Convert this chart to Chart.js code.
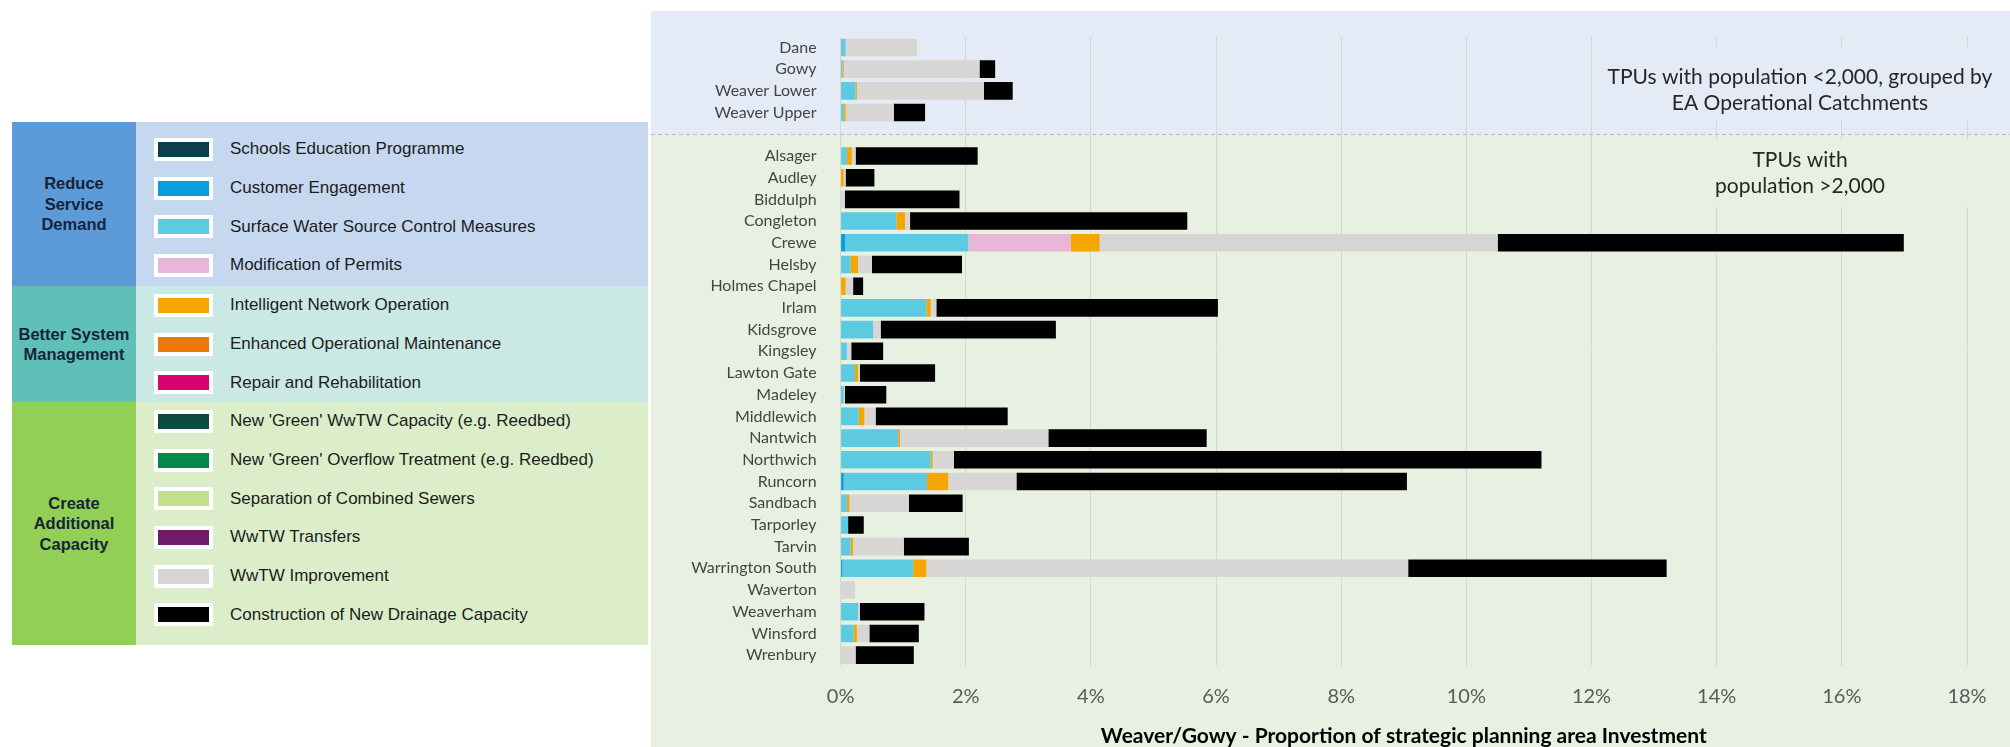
<!DOCTYPE html>
<html>
<head>
<meta charset="utf-8">
<title>Weaver/Gowy investment by TPU</title>
<script src="https://cdn.jsdelivr.net/npm/chart.js"></script>
<style>
  html, body { margin: 0; padding: 0; background: #fff; }
  body { width: 2010px; height: 747px; position: relative; overflow: hidden; font-family: "Liberation Sans", Arial, sans-serif; }
  #legend { position: absolute; left: 12px; top: 122px; width: 636px; }
  .grp { display: flex; }
  .grp .name { width: 124px; flex: none; display: flex; align-items: center; justify-content: center; text-align: center;
               font-weight: bold; font-size: 16.5px; line-height: 20.5px; color: #16243a; }
  .grp .items { flex: 1; box-sizing: border-box; }
  .item { height: 38.7px; display: flex; align-items: center; font-size: 17px; color: #1c1c1c; white-space: nowrap; }
  .sw { width: 51px; height: 15px; border: 4px solid #fff; margin-left: 18px; margin-right: 17px; flex: none; }
  #wrap { position: absolute; left: 651px; top: 11px; width: 1359px; height: 736px; }
</style>
</head>
<body>
<div id="legend"></div>
<div id="wrap"><canvas id="chart"></canvas></div>
<script>
// rows: 4 operational catchments, a spacer row, then the larger TPUs
var catchments = ['Dane', 'Gowy', 'Weaver Lower', 'Weaver Upper'];
var tpus = ['Alsager', 'Audley', 'Biddulph', 'Congleton', 'Crewe', 'Helsby', 'Holmes Chapel', 'Irlam',
  'Kidsgrove', 'Kingsley', 'Lawton Gate', 'Madeley', 'Middlewich', 'Nantwich', 'Northwich', 'Runcorn',
  'Sandbach', 'Tarporley', 'Tarvin', 'Warrington South', 'Waverton', 'Weaverham', 'Winsford', 'Wrenbury'];
var rowLabels = catchments.concat([''], tpus);
var spacerRow = 4;

// % of strategic planning area investment, one value per row (null = spacer)
//                  Dane  Gowy  WLow  WUpp  --    Alsg  Audl  Bidd  Cong  Crew  Hels  HolC  Irlm  Kids  King  LawG  Made  Midd  Nant  Nort  Runc  Sand  Tarp  Tarv  WarS  Wavt  Wvhm  Wins  Wren
var schoolsEducation =   [0,    0,    0,    0,    null, 0,    0,    0,    0,    0,    0,    0,    0,    0,    0,    0,    0,    0,    0,    0,    0,    0,    0,    0,    0,    0,    0,    0,    0];
var customerEngagement = [0,    0,    0,    0,    null, 0,    0,    0,    0,    0.07, 0,    0,    0,    0,    0,    0,    0,    0,    0,    0,    0.05, 0,    0,    0,    0.03, 0,    0,    0,    0];
var surfaceWater =       [0.08, 0.03, 0.24, 0.05, null, 0.10, 0,    0,    0.89, 1.97, 0.16, 0,    1.37, 0.52, 0.10, 0.23, 0.05, 0.29, 0.92, 1.44, 1.33, 0.10, 0.12, 0.16, 1.13, 0,    0.28, 0.21, 0];
var permitChanges =      [0,    0,    0,    0,    null, 0,    0,    0,    0,    1.64, 0,    0,    0,    0,    0,    0,    0,    0,    0,    0,    0,    0,    0,    0,    0,    0,    0,    0,    0];
var intelligentNetwork = [0,    0.02, 0.02, 0.03, null, 0.08, 0.05, 0,    0.14, 0.46, 0.12, 0.08, 0.07, 0,    0,    0.05, 0,    0.09, 0.03, 0.03, 0.34, 0.04, 0,    0.04, 0.21, 0,    0,    0.05, 0];
var enhancedMaint =      [0,    0,    0,    0,    null, 0,    0,    0,    0,    0,    0,    0,    0,    0,    0,    0,    0,    0,    0,    0,    0,    0,    0,    0,    0,    0,    0,    0,    0];
var repairRehab =        [0,    0,    0,    0,    null, 0,    0,    0,    0,    0,    0,    0,    0,    0,    0,    0,    0,    0,    0,    0,    0,    0,    0,    0,    0,    0,    0,    0,    0];
var greenWwtw =          [0,    0,    0,    0,    null, 0,    0,    0,    0,    0,    0,    0,    0,    0,    0,    0,    0,    0,    0,    0,    0,    0,    0,    0,    0,    0,    0,    0,    0];
var greenOverflow =      [0,    0,    0,    0,    null, 0,    0,    0,    0,    0,    0,    0,    0,    0,    0,    0,    0,    0,    0,    0,    0,    0,    0,    0,    0,    0,    0,    0,    0];
var sewerSeparation =    [0,    0,    0,    0,    null, 0,    0,    0,    0,    0,    0,    0,    0,    0,    0,    0,    0,    0,    0,    0,    0,    0,    0,    0,    0,    0,    0,    0,    0];
var wwtwTransfers =      [0,    0,    0,    0,    null, 0,    0,    0,    0,    0,    0,    0,    0,    0,    0,    0,    0,    0,    0,    0,    0,    0,    0,    0,    0,    0,    0,    0,    0];
var wwtwImprovement =    [1.14, 2.17, 2.03, 0.77, null, 0.06, 0.03, 0.07, 0.08, 6.36, 0.22, 0.12, 0.09, 0.12, 0.07, 0.03, 0.02, 0.18, 2.37, 0.34, 1.09, 0.95, 0,    0.81, 7.70, 0.23, 0.03, 0.20, 0.24];
var newDrainage =        [0,    0.25, 0.46, 0.50, null, 1.95, 0.46, 1.83, 4.43, 6.49, 1.44, 0.16, 4.50, 2.80, 0.51, 1.20, 0.66, 2.11, 2.53, 9.39, 6.24, 0.86, 0.25, 1.04, 4.13, 0,    1.03, 0.79, 0.93];

var xTicks = [0, 2, 4, 6, 8, 10, 12, 14, 16, 18];
var axisTitle = 'Weaver/Gowy - Proportion of strategic planning area Investment';

var groups = [
  { name: ['Reduce', 'Service', 'Demand'], items: [
      ['Schools Education Programme', schoolsEducation, '#0b3e4f'],
      ['Customer Engagement', customerEngagement, '#0a9ddc'],
      ['Surface Water Source Control Measures', surfaceWater, '#5ccbe2'],
      ['Modification of Permits', permitChanges, '#e8b7d7']] },
  { name: ['Better System', 'Management'], items: [
      ['Intelligent Network Operation', intelligentNetwork, '#f5a600'],
      ['Enhanced Operational Maintenance', enhancedMaint, '#ec7808'],
      ['Repair and Rehabilitation', repairRehab, '#d8036f']] },
  { name: ['Create', 'Additional', 'Capacity'], items: [
      ["New 'Green' WwTW Capacity (e.g. Reedbed)", greenWwtw, '#0c4a42'],
      ["New 'Green' Overflow Treatment (e.g. Reedbed)", greenOverflow, '#03874a'],
      ['Separation of Combined Sewers', sewerSeparation, '#c4df8e'],
      ['WwTW Transfers', wwtwTransfers, '#6f1c6c'],
      ['WwTW Improvement', wwtwImprovement, '#d8d6d4'],
      ['Construction of New Drainage Capacity', newDrainage, '#000000']] }
];

// legend panel colours and box sizes
var groupStyle = [
  { head: '#5d9ad8', body: '#c5d8f0', height: 164, padTop: 8 },
  { head: '#5fc0b8', body: '#cae9e5', height: 116, padTop: 0 },
  { head: '#92cf55', body: '#dbeec9', height: 243, padTop: 0 }
];

var legend = document.getElementById('legend');
groups.forEach(function (g, gi) {
  var st = groupStyle[gi];
  var row = document.createElement('div');
  row.className = 'grp';
  row.style.height = st.height + 'px';
  var name = document.createElement('div');
  name.className = 'name';
  name.style.background = st.head;
  name.innerHTML = g.name.join('<br>');
  var items = document.createElement('div');
  items.className = 'items';
  items.style.background = st.body;
  items.style.paddingTop = st.padTop + 'px';
  g.items.forEach(function (it) {
    var d = document.createElement('div');
    d.className = 'item';
    var sw = document.createElement('span');
    sw.className = 'sw';
    sw.style.background = it[2];
    d.appendChild(sw);
    d.appendChild(document.createTextNode(it[0]));
    items.appendChild(d);
  });
  row.appendChild(name);
  row.appendChild(items);
  legend.appendChild(row);
});

var datasets = [];
groups.forEach(function (g) {
  g.items.forEach(function (it) {
    datasets.push({
      label: it[0],
      data: it[1],
      backgroundColor: it[2],
      barPercentage: 0.81,
      categoryPercentage: 1
    });
  });
});

var topBg = '#e4ebf6';
var lowBg = '#e7f0e1';

// two-tone panel, dashed divider and the two group notes
var panel = {
  id: 'panel',
  beforeDraw: function (chart) {
    var ctx = chart.ctx;
    var sepY = chart.scales.y.getPixelForValue(spacerRow);
    ctx.save();
    ctx.fillStyle = lowBg;
    ctx.fillRect(0, 0, chart.width, chart.height);
    ctx.fillStyle = topBg;
    ctx.fillRect(0, 0, chart.width, sepY);
    ctx.restore();
  },
  beforeDatasetsDraw: function (chart) {
    var ctx = chart.ctx;
    var sepY = chart.scales.y.getPixelForValue(spacerRow);
    ctx.save();
    ctx.strokeStyle = '#a8bfd6';
    ctx.lineWidth = 1;
    ctx.setLineDash([4, 3]);
    ctx.beginPath();
    ctx.moveTo(0, Math.round(sepY) + 0.5);
    ctx.lineTo(chart.width, Math.round(sepY) + 0.5);
    ctx.stroke();
    ctx.setLineDash([]);

    var cx = 1149;
    ctx.fillStyle = topBg;
    ctx.fillRect(950, 36, 390, 73);
    ctx.fillStyle = lowBg;
    ctx.fillRect(950, 129, 390, 67);

    ctx.fillStyle = '#262626';
    ctx.font = '21px Lato';
    ctx.textAlign = 'center';
    ctx.textBaseline = 'middle';
    ctx.fillText('TPUs with population <2,000, grouped by', cx, 66);
    ctx.fillText('EA Operational Catchments', cx, 92);
    ctx.fillText('TPUs with', cx, 149);
    ctx.fillText('population >2,000', cx, 175);
    ctx.restore();
  }
};

function draw() {
  new Chart(document.getElementById('chart'), {
    type: 'bar',
    data: { labels: rowLabels, datasets: datasets },
    options: {
      indexAxis: 'y',
      responsive: true,
      maintainAspectRatio: false,
      animation: false,
      layout: { padding: { top: 23, right: 43, left: 0, bottom: 0 } },
      plugins: { legend: { display: false }, tooltip: { enabled: false } },
      scales: {
        x: {
          stacked: true,
          min: 0,
          max: 18,
          afterBuildTicks: function (s) { s.ticks = xTicks.map(function (v) { return { value: v }; }); },
          ticks: {
            callback: function (v) { return v + '%'; },
            color: '#595959',
            font: { family: 'Lato', size: 20 },
            padding: 19
          },
          grid: { color: '#d3d9cd', drawTicks: false },
          border: { display: false },
          title: {
            display: true,
            text: axisTitle,
            color: '#000',
            font: { family: 'Lato', size: 21, weight: 'bold', lineHeight: 1 },
            padding: { top: 0, bottom: 0 }
          },
          afterFit: function (s) { s.height = 81; }
        },
        y: {
          stacked: true,
          ticks: {
            autoSkip: false,
            color: '#444',
            font: { family: 'Lato', size: 16 },
            padding: 16
          },
          grid: { display: false },
          border: { display: false },
          afterFit: function (s) { s.width = 189.6; }
        }
      }
    },
    plugins: [panel]
  });
}

Promise.all([
  document.fonts.load('20px Lato'),
  document.fonts.load('bold 21px Lato')
]).then(draw, draw);
</script>
</body>
</html>
